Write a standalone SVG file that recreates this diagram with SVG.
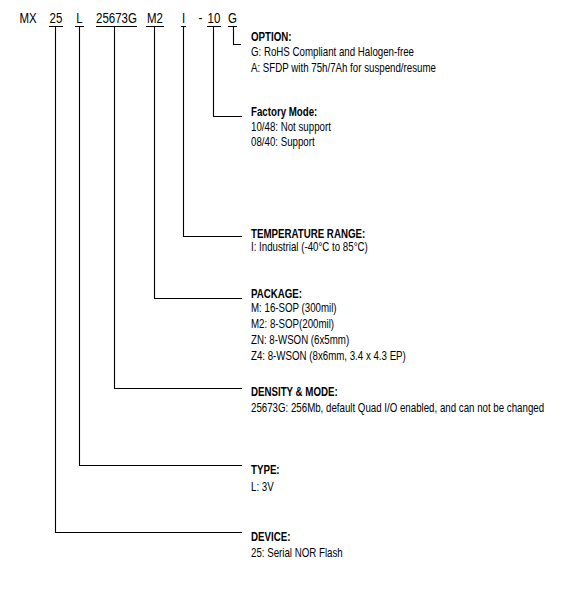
<svg xmlns="http://www.w3.org/2000/svg" width="569" height="593" viewBox="0 0 569 593">
<style>
text{font-family:"Liberation Sans",Arial,sans-serif;fill:#000}
.code{font-size:14px;text-anchor:middle}
.h{font-size:12px;font-weight:bold}
.t{font-size:12px}
.ln{stroke:#000;stroke-width:1.1;fill:none}
</style>
<rect width="569" height="593" fill="#fff"/>
<g id="part-number">
 <g id="seg-mx" transform="translate(28,22.5) scale(0.82,1)"><text class="code">MX</text></g>
 <g id="seg-25" transform="translate(56,22.5) scale(0.82,1)"><text class="code">25</text></g>
 <g id="seg-l" transform="translate(79.5,22.5) scale(0.82,1)"><text class="code">L</text></g>
 <g id="seg-density" transform="translate(116.5,22.5) scale(0.82,1)"><text class="code">25673G</text></g>
 <g id="seg-m2" transform="translate(155,22.5) scale(0.82,1)"><text class="code">M2</text></g>
 <g id="seg-i" transform="translate(183.5,22.5) scale(0.82,1)"><text class="code">I</text></g>
 <g id="seg-dash" transform="translate(200.5,22.5) scale(0.82,1)"><text class="code">-</text></g>
 <g id="seg-10" transform="translate(214,22.5) scale(0.82,1)"><text class="code">10</text></g>
 <g id="seg-g" transform="translate(232.5,22.5) scale(0.82,1)"><text class="code">G</text></g>
</g>
<g id="connectors" class="ln">
 <path d="M49,26.5H63M55.5,26.5V532.5H242"/>
 <path d="M75,26.5H84M79.5,26.5V465.5H242"/>
 <path d="M96,26.5H137M114.5,26.5V388.5H242"/>
 <path d="M146,26.5H164M154.5,26.5V298.5H242"/>
 <path d="M181,26.5H186M183.5,26.5V236.5H242"/>
 <path d="M207,26.5H221M213.5,26.5V116.5H242"/>
 <path d="M228,26.5H237M233.5,26.5V44.5H241"/>
</g>
<g id="option" transform="translate(251,0) scale(0.81,1)">
 <text class="h" y="41">OPTION:</text>
 <text class="t" y="56.5">G: RoHS Compliant and Halogen-free</text>
 <text class="t" y="72.5">A: SFDP with 75h/7Ah for suspend/resume</text>
</g>
<g id="factory-mode" transform="translate(251,0) scale(0.81,1)">
 <text class="h" y="116">Factory Mode:</text>
 <text class="t" y="131">10/48: Not support</text>
 <text class="t" y="146.5">08/40: Support</text>
</g>
<g id="temperature" transform="translate(251,0) scale(0.81,1)">
 <text class="h" y="238">TEMPERATURE RANGE:</text>
 <text class="t" y="251">I: Industrial (-40°C to 85°C)</text>
</g>
<g id="package" transform="translate(251,0) scale(0.81,1)">
 <text class="h" y="298.5">PACKAGE:</text>
 <text class="t" y="312">M: 16-SOP (300mil)</text>
 <text class="t" y="328">M2: 8-SOP(200mil)</text>
 <text class="t" y="344">ZN: 8-WSON (6x5mm)</text>
 <text class="t" y="360">Z4: 8-WSON (8x6mm, 3.4 x 4.3 EP)</text>
</g>
<g id="density" transform="translate(251,0) scale(0.81,1)">
 <text class="h" y="396">DENSITY &amp; MODE:</text>
 <text class="t" y="412">25673G: 256Mb, default Quad I/O enabled, and can not be changed</text>
</g>
<g id="type" transform="translate(251,0) scale(0.81,1)">
 <text class="h" y="474">TYPE:</text>
 <text class="t" y="491">L: 3V</text>
</g>
<g id="device" transform="translate(251,0) scale(0.81,1)">
 <text class="h" y="541">DEVICE:</text>
 <text class="t" y="557">25: Serial NOR Flash</text>
</g>
</svg>
